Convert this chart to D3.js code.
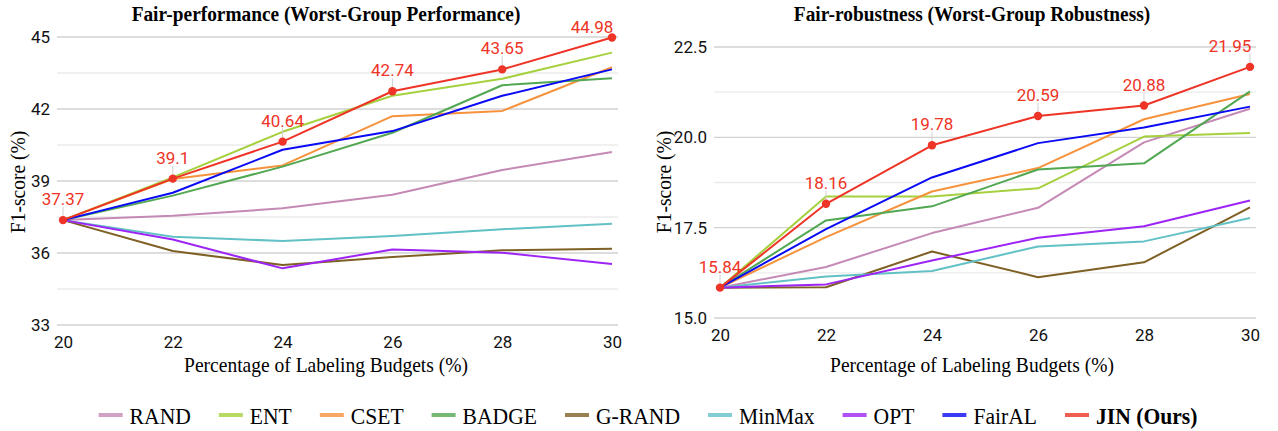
<!DOCTYPE html>
<html>
<head>
<meta charset="utf-8">
<script src="https://cdn.jsdelivr.net/npm/d3@7"></script>
<style>
  html, body { margin: 0; padding: 0; background: #fff; }
  svg { display: block; }
</style>
</head>
<body>
<svg id="chart" width="1278" height="431"></svg>
<script>
// ---------------- DATA ----------------
const budgets = [20, 22, 24, 26, 28, 30];
const methods = ["RAND", "ENT", "CSET", "BADGE", "G-RAND", "MinMax", "OPT", "FairAL", "JIN (Ours)"];
const colors  = ["#c48ab5", "#a6d13f", "#f6923b", "#52a852", "#7f6024", "#62c1c5", "#9d24f5", "#0a0af5", "#ee3426"];

// Fair-performance (Worst-Group Performance)
const perfRAND   = [37.37, 37.55, 37.86, 38.43, 39.46, 40.21];
const perfENT    = [37.37, 39.15, 41.05, 42.55, 43.26, 44.35];
const perfCSET   = [37.37, 39.08, 39.65, 41.70, 41.92, 43.74];
const perfBADGE  = [37.37, 38.39, 39.60, 41.01, 42.99, 43.28];
const perfGRAND  = [37.37, 36.08, 35.50, 35.83, 36.11, 36.18];
const perfMinMax = [37.37, 36.68, 36.50, 36.71, 36.99, 37.22];
const perfOPT    = [37.37, 36.56, 35.36, 36.15, 36.01, 35.54];
const perfFairAL = [37.37, 38.51, 40.30, 41.08, 42.55, 43.65];
const perfJIN    = [37.37, 39.10, 40.64, 42.74, 43.65, 44.98];

// Fair-robustness (Worst-Group Robustness)
const robRAND   = [15.84, 16.41, 17.35, 18.05, 19.86, 20.79];
const robENT    = [15.84, 18.36, 18.36, 18.59, 20.02, 20.12];
const robCSET   = [15.84, 17.24, 18.50, 19.15, 20.50, 21.20];
const robBADGE  = [15.84, 17.70, 18.09, 19.11, 19.28, 21.27];
const robGRAND  = [15.84, 15.85, 16.84, 16.13, 16.54, 18.06];
const robMinMax = [15.84, 16.15, 16.30, 16.98, 17.12, 17.77];
const robOPT    = [15.84, 15.93, 16.59, 17.22, 17.54, 18.25];
const robFairAL = [15.84, 17.46, 18.89, 19.84, 20.27, 20.85];
const robJIN    = [15.84, 18.16, 19.78, 20.59, 20.88, 21.95];

const perfTicks  = [33, 36, 39, 42, 45];
const perfMinor  = [34.5, 37.5, 40.5, 43.5];
const robTicks   = [15.0, 17.5, 20.0, 22.5];
const robMinor   = [16.25, 18.75, 21.25];

const perfTitle = "Fair-performance (Worst-Group Performance)";
const robTitle  = "Fair-robustness (Worst-Group Robustness)";
const xTitle = "Percentage of Labeling Budgets (%)";
const yTitle = "F1-score (%)";

// ---------------- DRAW ----------------
const svg = d3.select("#chart");
svg.append("rect").attr("width", 1278).attr("height", 431).attr("fill", "#fff");

const serif = "'Liberation Serif', 'Times New Roman', serif";
const sans = "Roboto, 'Liberation Sans', Arial, sans-serif";
const SX = 0.9; // condensed serif look

function serifText(parent, x, y, str, size, opts = {}) {
  const t = parent.append("text")
    .attr("transform", `translate(${x},${y})${opts.rotate ? " rotate(-90)" : ""} scale(${SX},1)`)
    .attr("text-anchor", opts.anchor || "middle")
    .attr("font-family", serif).attr("font-size", size)
    .attr("font-weight", opts.bold ? "bold" : "normal")
    .attr("fill", "#000").text(str);
  return t;
}

function drawPanel(cfg) {
  const x = d3.scaleLinear().domain([20, 30]).range([cfg.x0, cfg.x1]);
  const y = d3.scaleLinear().domain(cfg.yDomain).range([cfg.yBottom, cfg.yTop]);
  const g = svg.append("g");

  g.selectAll(null).data(cfg.minor).join("line")
    .attr("x1", cfg.x0 - 6).attr("x2", cfg.x1 + 6)
    .attr("y1", d => y(d)).attr("y2", d => y(d))
    .attr("stroke", "#ebebeb").attr("stroke-width", 1.3);
  g.selectAll(null).data(cfg.ticks).join("line")
    .attr("x1", cfg.x0 - 6).attr("x2", cfg.x1 + 6)
    .attr("y1", d => y(d)).attr("y2", d => y(d))
    .attr("stroke", "#d2d2d2").attr("stroke-width", 1.3);

  const yAxis = d3.axisLeft(y).tickValues(cfg.ticks).tickFormat(cfg.fmt).tickSize(0).tickPadding(0);
  const ya = g.append("g").attr("transform", `translate(${cfg.x0 - 13},0)`).call(yAxis);
  ya.select(".domain").remove();
  ya.selectAll("text").attr("font-family", sans).attr("font-size", 17).attr("fill", "#111");

  const xAxis = d3.axisBottom(x).tickValues(budgets).tickFormat(d3.format("d")).tickSize(0).tickPadding(0);
  const xa = g.append("g").attr("transform", `translate(0,${cfg.yBottom + 11})`).call(xAxis);
  xa.select(".domain").remove();
  xa.selectAll("text").attr("font-family", sans).attr("font-size", 17).attr("fill", "#111");

  serifText(g, cfg.titleX, 21, cfg.title, 21.5, { bold: true });
  serifText(g, cfg.titleX, 372, xTitle, 21.7);
  serifText(g, cfg.yTitleX, 182, yTitle, 21.7, { rotate: true });

  const line = d3.line().x((d, i) => x(budgets[i])).y(d => y(d));
  cfg.series.forEach((s, k) => {
    g.append("path").datum(s).attr("d", line)
      .attr("fill", "none").attr("stroke", colors[k]).attr("stroke-width", 2)
      .attr("stroke-linejoin", "round");
  });

  const jin = cfg.series[cfg.series.length - 1];
  const red = colors[colors.length - 1];
  const lab = g.append("g");
  jin.forEach((v, i) => {
    const px = x(budgets[i]), py = y(v);
    const ly = Math.max(py - 15, cfg.yTop - 4);
    const lx = Math.min(px, cfg.x1 - 20);
    lab.append("line").attr("x1", px).attr("x2", px).attr("y1", py).attr("y2", ly + 2)
      .attr("stroke", "#cfcfcf").attr("stroke-width", 1);
    lab.append("text").attr("x", lx).attr("y", ly).attr("text-anchor", "middle")
      .attr("font-family", sans).attr("font-size", 17).attr("fill", red)
      .text(cfg.labelFmt(v));
  });
  g.selectAll(null).data(jin).join("circle")
    .attr("cx", (d, i) => x(budgets[i])).attr("cy", d => y(d)).attr("r", 4.2)
    .attr("fill", red);
}

drawPanel({
  x0: 63, x1: 612, yTop: 37, yBottom: 325, yDomain: [33, 45],
  ticks: perfTicks, minor: perfMinor, fmt: d3.format("d"),
  titleX: 326, yTitleX: 25, title: perfTitle,
  labelFmt: v => String(+v.toFixed(2)),
  series: [perfRAND, perfENT, perfCSET, perfBADGE, perfGRAND, perfMinMax, perfOPT, perfFairAL, perfJIN]
});
drawPanel({
  x0: 720, x1: 1250, yTop: 47, yBottom: 318, yDomain: [15, 22.5],
  ticks: robTicks, minor: robMinor, fmt: d3.format(".1f"),
  titleX: 972, yTitleX: 671, title: robTitle,
  labelFmt: v => String(+v.toFixed(2)),
  series: [robRAND, robENT, robCSET, robBADGE, robGRAND, robMinMax, robOPT, robFairAL, robJIN]
});

// ---------------- LEGEND ----------------
const leg = svg.append("g");
const items = leg.selectAll("g").data(methods).join("g");
items.append("line").attr("x1", 0).attr("x2", 24).attr("y1", 0).attr("y2", 0)
  .attr("stroke", (d, i) => colors[i]).attr("stroke-width", 4).attr("stroke-opacity", 0.8);
items.each(function (d, i) {
  serifText(d3.select(this), 31, 9, d, 24, { anchor: "start", bold: i === methods.length - 1 });
});
const widths = [];
items.each(function () {
  const w = d3.select(this).select("text").node().getComputedTextLength() * SX;
  widths.push(31 + w);
});
const total = d3.sum(widths) + 28 * (widths.length - 1);
let cursor = 648 - total / 2;
items.each(function (d, i) {
  d3.select(this).attr("transform", `translate(${cursor},415)`);
  cursor += widths[i] + 28;
});
</script>
</body>
</html>
